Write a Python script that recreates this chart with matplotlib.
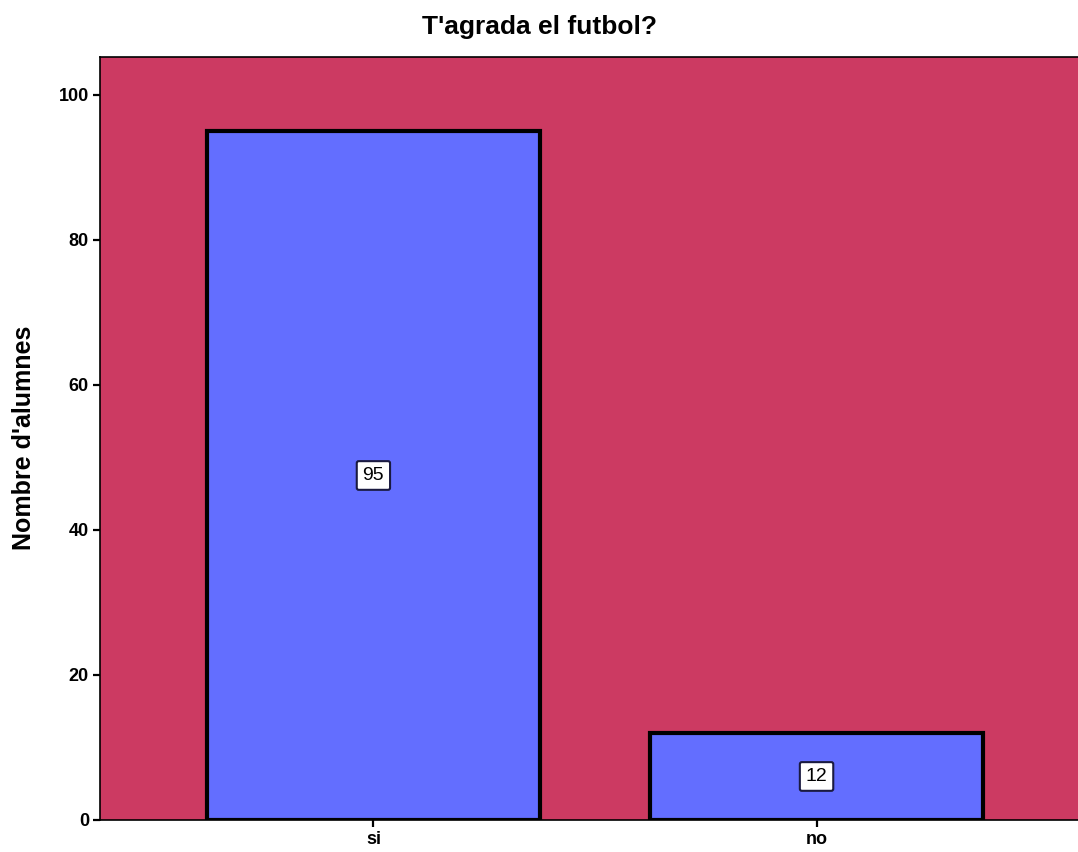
import matplotlib
matplotlib.use("Agg")
import matplotlib.pyplot as plt

plt.rcParams['font.family'] = ['Liberation Sans', 'DejaVu Sans']

categories = ['si', 'no']
counts = [95, 12]

fig = plt.figure(figsize=(10.78, 8.52), dpi=100)
ax = fig.add_axes([100 / 1078, 1 - 820 / 852, 1 - 100 / 1078, (820 - 57) / 852])
ax.set_facecolor('#cc3a62')

x = list(range(len(categories)))
ax.bar(x, counts, width=0.752, color='#636eff', edgecolor='black', linewidth=3, zorder=3)

# value labels in white boxes at half bar height
for xi, v in zip(x, counts):
    ax.text(xi, v / 2, str(v), ha='center', va='center', fontsize=14, zorder=4,
            bbox=dict(boxstyle='round,pad=0.3,rounding_size=0.1', facecolor='white',
                      edgecolor='#1a1a40', linewidth=1.5))

ax.set_xlim(-0.617, 1.59)
ax.set_ylim(0, 105.2)
ax.set_yticks([0, 20, 40, 60, 80, 100])
ax.set_xticks(x)
ax.set_xticklabels(categories, fontweight='bold', fontsize=13)
for lbl in ax.get_yticklabels():
    lbl.set_fontweight('bold')
    lbl.set_fontsize(13)
ax.tick_params(axis='both', length=5, width=1.6, direction='out', pad=3)

ax.spines['right'].set_visible(False)
for s in ['top', 'left', 'bottom']:
    ax.spines[s].set_linewidth(1.2)

fig.text(24 / 1078, 1 - 438 / 852, "Nombre d'alumnes", rotation=90, ha='center', va='center',
         fontsize=18, fontweight='bold')
fig.text(0.5, 1 - 27 / 852, "T'agrada el futbol?", ha='center', va='center',
         fontsize=19, fontweight='bold')

fig.savefig('out.png', dpi=100)
